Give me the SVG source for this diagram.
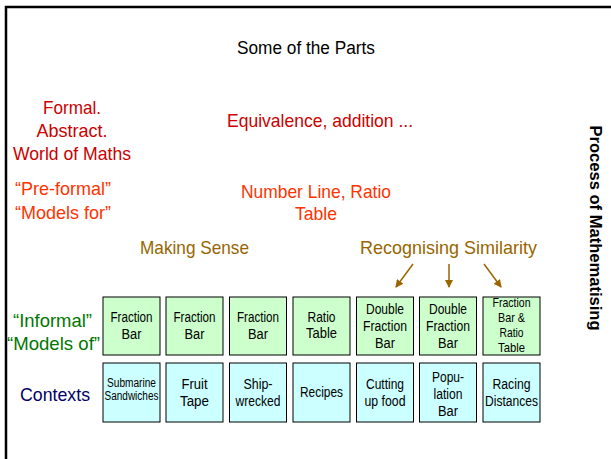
<svg xmlns="http://www.w3.org/2000/svg" width="611" height="459" viewBox="0 0 611 459">
<style>
text{font-family:"Liberation Sans",Arial,sans-serif;text-anchor:middle}
.title{font-size:18px;fill:#000}
.formal{font-size:19px;fill:#CC0000}
.pre{font-size:19px;fill:#FF3300}
.sense{font-size:19px;fill:#996600}
.inf{font-size:19px;fill:#007700}
.ctx{font-size:19px;fill:#000066}
.side{font-size:16px;font-weight:bold;fill:#000}
.g{fill:#CCFFCC;stroke:#000;stroke-width:1}
.b{fill:#CCFFFF;stroke:#000;stroke-width:1}
.bt{font-size:15.5px;fill:#000}
.st{font-size:13px;fill:#000}
.xs{font-size:12px;fill:#000}
.arr{stroke:#996600;stroke-width:1.5;fill:none;marker-end:url(#ah)}
</style>
<defs>
<marker id="ah" markerWidth="8" markerHeight="8" refX="7" refY="4" orient="auto" markerUnits="userSpaceOnUse">
<path d="M0,0 L8,4 L0,8 z" fill="#996600"/>
</marker>
</defs>
<rect x="0" y="0" width="611" height="459" fill="#fff"/>
<path d="M6,459 V7 H611" fill="none" stroke="#000" stroke-width="2.5"/>
<g id="labels">
<text class="title" x="306" y="54" textLength="138" lengthAdjust="spacingAndGlyphs">Some of the Parts</text>
<text class="formal" x="72" y="114" textLength="58" lengthAdjust="spacingAndGlyphs">Formal.</text>
<text class="formal" x="72" y="137" textLength="71" lengthAdjust="spacingAndGlyphs">Abstract.</text>
<text class="formal" x="72" y="160" textLength="118" lengthAdjust="spacingAndGlyphs">World of Maths</text>
<text class="formal" x="320" y="127" textLength="186" lengthAdjust="spacingAndGlyphs">Equivalence, addition ...</text>
<text class="pre" x="63" y="195" textLength="96" lengthAdjust="spacingAndGlyphs">“Pre-formal”</text>
<text class="pre" x="63" y="219" textLength="96" lengthAdjust="spacingAndGlyphs">“Models for”</text>
<text class="pre" x="316" y="198" textLength="150" lengthAdjust="spacingAndGlyphs">Number Line, Ratio</text>
<text class="pre" x="316" y="220" textLength="42" lengthAdjust="spacingAndGlyphs">Table</text>
<text class="sense" x="194.5" y="254" textLength="109" lengthAdjust="spacingAndGlyphs">Making Sense</text>
<text class="sense" x="448.5" y="254" textLength="177" lengthAdjust="spacingAndGlyphs">Recognising Similarity</text>
<text class="inf" x="52.5" y="327" textLength="79" lengthAdjust="spacingAndGlyphs">“Informal”</text>
<text class="inf" x="53.5" y="350" textLength="93" lengthAdjust="spacingAndGlyphs">“Models of”</text>
<text class="ctx" x="55" y="401" textLength="70" lengthAdjust="spacingAndGlyphs">Contexts</text>
<text class="side" transform="translate(590,228) rotate(90)" textLength="205" lengthAdjust="spacingAndGlyphs">Process of Mathematising</text>
</g>
<g id="connectors">
<line class="arr" x1="413" y1="264" x2="396" y2="287"/>
<line class="arr" x1="449" y1="264" x2="449" y2="287"/>
<line class="arr" x1="484" y1="264" x2="501" y2="287"/>
</g>
<g id="m1"><rect class="g" x="103" y="297" width="57" height="58"/><text class="bt" x="131.5" y="322" textLength="42" lengthAdjust="spacingAndGlyphs">Fraction</text><text class="bt" x="131.5" y="339" textLength="20" lengthAdjust="spacingAndGlyphs">Bar</text></g>
<g id="m2"><rect class="g" x="166" y="297" width="57" height="58"/><text class="bt" x="194.5" y="322" textLength="42" lengthAdjust="spacingAndGlyphs">Fraction</text><text class="bt" x="194.5" y="339" textLength="20" lengthAdjust="spacingAndGlyphs">Bar</text></g>
<g id="m3"><rect class="g" x="229.5" y="297" width="57" height="58"/><text class="bt" x="258" y="322" textLength="42" lengthAdjust="spacingAndGlyphs">Fraction</text><text class="bt" x="258" y="339" textLength="20" lengthAdjust="spacingAndGlyphs">Bar</text></g>
<g id="m4"><rect class="g" x="293" y="297" width="57" height="58"/><text class="bt" x="321.5" y="322" textLength="28" lengthAdjust="spacingAndGlyphs">Ratio</text><text class="bt" x="321.5" y="338" textLength="31" lengthAdjust="spacingAndGlyphs">Table</text></g>
<g id="m5"><rect class="g" x="356.5" y="297" width="57" height="58"/><text class="bt" x="385" y="314" textLength="38" lengthAdjust="spacingAndGlyphs">Double</text><text class="bt" x="385" y="331" textLength="44" lengthAdjust="spacingAndGlyphs">Fraction</text><text class="bt" x="385" y="348" textLength="20" lengthAdjust="spacingAndGlyphs">Bar</text></g>
<g id="m6"><rect class="g" x="419.5" y="297" width="57" height="58"/><text class="bt" x="448" y="314" textLength="38" lengthAdjust="spacingAndGlyphs">Double</text><text class="bt" x="448" y="331" textLength="44" lengthAdjust="spacingAndGlyphs">Fraction</text><text class="bt" x="448" y="348" textLength="20" lengthAdjust="spacingAndGlyphs">Bar</text></g>
<g id="m7"><rect class="g" x="483" y="297" width="57" height="58"/><text class="st" x="511.5" y="307" textLength="38" lengthAdjust="spacingAndGlyphs">Fraction</text><text class="st" x="511.5" y="322" textLength="27" lengthAdjust="spacingAndGlyphs">Bar &amp;</text><text class="st" x="511.5" y="337" textLength="24" lengthAdjust="spacingAndGlyphs">Ratio</text><text class="st" x="511.5" y="352" textLength="27" lengthAdjust="spacingAndGlyphs">Table</text></g>
<g id="c1"><rect class="b" x="103" y="363" width="57" height="59"/><text class="xs" x="131.5" y="387" textLength="49" lengthAdjust="spacingAndGlyphs">Submarine</text><text class="xs" x="131.5" y="400" textLength="54" lengthAdjust="spacingAndGlyphs">Sandwiches</text></g>
<g id="c2"><rect class="b" x="166" y="363" width="57" height="59"/><text class="bt" x="194.5" y="389" textLength="26" lengthAdjust="spacingAndGlyphs">Fruit</text><text class="bt" x="194.5" y="406" textLength="29" lengthAdjust="spacingAndGlyphs">Tape</text></g>
<g id="c3"><rect class="b" x="229.5" y="363" width="57" height="59"/><text class="bt" x="258" y="389" textLength="29" lengthAdjust="spacingAndGlyphs">Ship-</text><text class="bt" x="258" y="406" textLength="45" lengthAdjust="spacingAndGlyphs">wrecked</text></g>
<g id="c4"><rect class="b" x="293" y="363" width="57" height="59"/><text class="bt" x="321.5" y="397" textLength="43" lengthAdjust="spacingAndGlyphs">Recipes</text></g>
<g id="c5"><rect class="b" x="356.5" y="363" width="57" height="59"/><text class="bt" x="385" y="389" textLength="38" lengthAdjust="spacingAndGlyphs">Cutting</text><text class="bt" x="385" y="406" textLength="41" lengthAdjust="spacingAndGlyphs">up food</text></g>
<g id="c6"><rect class="b" x="419.5" y="363" width="57" height="59"/><text class="bt" x="448" y="382" textLength="32" lengthAdjust="spacingAndGlyphs">Popu-</text><text class="bt" x="448" y="399" textLength="29" lengthAdjust="spacingAndGlyphs">lation</text><text class="bt" x="448" y="416" textLength="20" lengthAdjust="spacingAndGlyphs">Bar</text></g>
<g id="c7"><rect class="b" x="483" y="363" width="57" height="59"/><text class="bt" x="511.5" y="389" textLength="38" lengthAdjust="spacingAndGlyphs">Racing</text><text class="bt" x="511.5" y="406" textLength="53" lengthAdjust="spacingAndGlyphs">Distances</text></g>
</svg>
